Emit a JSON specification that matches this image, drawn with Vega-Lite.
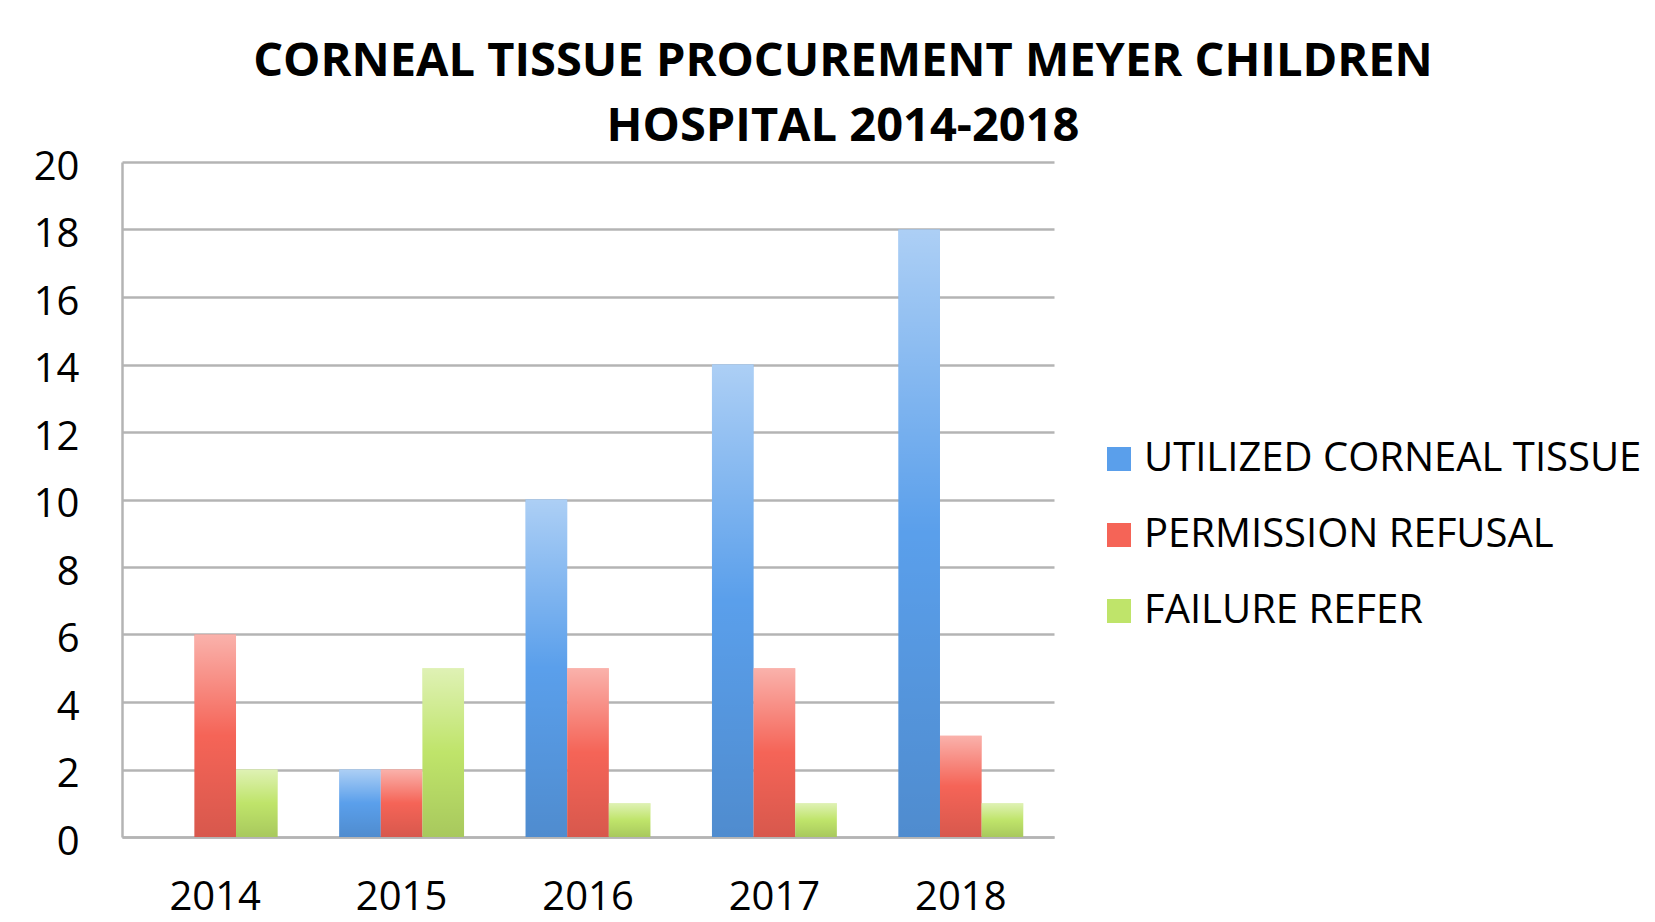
{
  "$schema": "https://vega.github.io/schema/vega-lite/v6.json",
  "autosize": {"type": "none"},
  "width": 932,
  "height": 675,
  "padding": {"left": 122, "top": 162, "right": 601, "bottom": 85},
  "background": "white",
  "title": {
    "text": ["CORNEAL TISSUE PROCUREMENT MEYER CHILDREN", "HOSPITAL 2014-2018"],
    "font": "Open Sans",
    "fontSize": 47,
    "fontWeight": "bold",
    "color": "black",
    "anchor": "middle",
    "frame": "group",
    "dx": 255,
    "lineHeight": 65,
    "offset": -4
  },
  "data": {
    "values": [
      {"year": "2014", "series": "UTILIZED CORNEAL TISSUE", "value": 0},
      {"year": "2014", "series": "PERMISSION REFUSAL", "value": 6},
      {"year": "2014", "series": "FAILURE REFER", "value": 2},
      {"year": "2015", "series": "UTILIZED CORNEAL TISSUE", "value": 2},
      {"year": "2015", "series": "PERMISSION REFUSAL", "value": 2},
      {"year": "2015", "series": "FAILURE REFER", "value": 5},
      {"year": "2016", "series": "UTILIZED CORNEAL TISSUE", "value": 10},
      {"year": "2016", "series": "PERMISSION REFUSAL", "value": 5},
      {"year": "2016", "series": "FAILURE REFER", "value": 1},
      {"year": "2017", "series": "UTILIZED CORNEAL TISSUE", "value": 14},
      {"year": "2017", "series": "PERMISSION REFUSAL", "value": 5},
      {"year": "2017", "series": "FAILURE REFER", "value": 1},
      {"year": "2018", "series": "UTILIZED CORNEAL TISSUE", "value": 18},
      {"year": "2018", "series": "PERMISSION REFUSAL", "value": 3},
      {"year": "2018", "series": "FAILURE REFER", "value": 1}
    ]
  },
  "encoding": {
    "x": {
      "field": "year",
      "type": "nominal",
      "scale": {"paddingInner": 0.33, "paddingOuter": 0.165},
      "axis": {
        "title": null,
        "labelAngle": 0,
        "labelFont": "Open Sans",
        "labelFontSize": 40,
        "labelColor": "black",
        "labelPadding": 40,
        "ticks": false,
        "domainColor": "#b4b4b4",
        "domainWidth": 2.5,
        "grid": false
      }
    },
    "xOffset": {
      "field": "series",
      "type": "nominal",
      "scale": {"domain": ["UTILIZED CORNEAL TISSUE", "PERMISSION REFUSAL", "FAILURE REFER"], "paddingInner": 0, "paddingOuter": 0}
    },
    "y": {
      "field": "value",
      "type": "quantitative",
      "scale": {"domain": [0, 20], "nice": false},
      "axis": {
        "title": null,
        "values": [0, 2, 4, 6, 8, 10, 12, 14, 16, 18, 20],
        "labelFont": "Open Sans",
        "labelFontSize": 40,
        "labelColor": "black",
        "labelPadding": 43,
        "labelOffset": 5,
        "ticks": false,
        "domainColor": "#b4b4b4",
        "domainWidth": 2.5,
        "gridColor": "#b4b4b4",
        "gridWidth": 2.5
      }
    }
  },
  "layer": [
    {
      "mark": {"type": "bar"},
      "encoding": {
        "color": {
          "field": "series",
          "type": "nominal",
          "scale": {
            "domain": ["UTILIZED CORNEAL TISSUE", "PERMISSION REFUSAL", "FAILURE REFER"],
            "range": ["#5a9feb", "#f56457", "#bfe46a"]
          },
          "legend": {
            "title": null,
            "orient": "none",
            "legendX": 977,
            "legendY": 277,
            "symbolType": "square",
            "symbolSize": 576,
            "symbolStrokeWidth": 0,
            "symbolOpacity": 1,
            "labelFont": "Open Sans",
            "labelFontSize": 40,
            "labelColor": "black",
            "labelOffset": 5,
            "labelLimit": 0,
            "rowPadding": 36
          }
        }
      }
    },
    {
      "mark": {
        "type": "bar",
        "color": {
          "gradient": "linear",
          "x1": 0, "y1": 0, "x2": 0, "y2": 1,
          "stops": [
            {"offset": 0, "color": "rgba(255,255,255,0.5)"},
            {"offset": 0.5, "color": "rgba(255,255,255,0)"},
            {"offset": 0.5, "color": "rgba(0,0,0,0)"},
            {"offset": 1, "color": "rgba(0,0,0,0.12)"}
          ]
        }
      }
    }
  ],
  "config": {
    "view": {"stroke": null}
  }
}
